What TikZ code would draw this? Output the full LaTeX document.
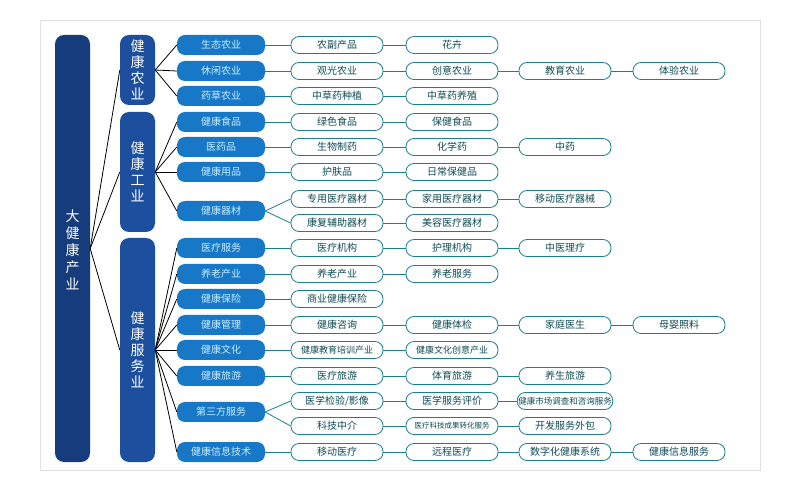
\documentclass[tikz,border=0pt]{standalone}
\usepackage{fontspec}
\setmainfont{Noto Sans CJK SC}
\usetikzlibrary{positioning}
\definecolor{navy}{HTML}{163C7E}
\definecolor{catblue}{HTML}{1C4F9E}
\definecolor{midblue}{HTML}{1778C8}
\definecolor{teal}{HTML}{1B7F8E}
\tikzstyle{bar}=[rectangle, rounded corners=9pt, fill=navy, text=white, align=center, font=\fontsize{13}{15}\selectfont]
\tikzstyle{cat}=[rectangle, rounded corners=9pt, fill=catblue, text=white, align=center, font=\fontsize{14}{16}\selectfont]
\tikzstyle{sub}=[rectangle, rounded corners=8pt, fill=midblue, text=white!80!cyan, minimum width=88pt, minimum height=20pt, font=\fontsize{10}{11}\selectfont]
\tikzstyle{leaf}=[rectangle, rounded corners=8pt, draw=teal, thick, fill=white, text=teal!60!black, minimum width=92pt, minimum height=17pt, inner sep=1pt, font=\fontsize{10}{11}\selectfont]
\tikzstyle{link}=[draw=teal, thick]
\begin{document}
\begin{tikzpicture}[x=1pt, y=-1pt]
	\useasboundingbox[fill=white] (0,0) rectangle (785,494);
	\draw[black!12] (40,20) rectangle (760,470);

	\node[bar, minimum width=35pt, minimum height=427pt] (big) at (72.5,248.5) {};
	\node[text=white, font=\fontsize{14}{17}\selectfont, align=center] at (72.5,250) {大\\健\\康\\产\\业};

	\node[cat, minimum width=35pt, minimum height=70pt] (agri) at (137.5,70) {健\\康\\农\\业};
	\node[cat, minimum width=35pt, minimum height=120pt] (indu) at (137.5,172) {健\\康\\工\\业};
	\node[cat, minimum width=35pt, minimum height=224pt] (serv) at (137.5,350) {健\\康\\服\\务\\业};

	\foreach \c in {agri,indu,serv}
		\draw[thick] (big.east) -- (\c.west);

	% second column
	\foreach \n/\y/\t/\c in {s1/45/生态农业/agri, s2/71/休闲农业/agri, s3/96/药草农业/agri,
		s4/122/健康食品/indu, s5/147/医药品/indu, s6/172/健康用品/indu, s7/211/健康器材/indu,
		s8/248/医疗服务/serv, s9/274/养老产业/serv, s10/299/健康保险/serv, s11/325/健康管理/serv,
		s12/350/健康文化/serv, s13/376/健康旅游/serv, s14/412/第三方服务/serv, s15/452/健康信息技术/serv}
	{
		\node[sub] (\n) at (221,\y) {\t};
		\draw[thick] (\c.east) -- (\n.west);
	}

	% leaves
	\foreach \n/\s/\x/\y/\t in {
		a1/s1/337/45/农副产品, a2/s2/337/71/观光农业, a3/s3/337/96/中草药种植,
		a4/s4/337/122/绿色食品, a5/s5/337/147/生物制药, a6/s6/337/172/护肤品,
		a7/s7/337/199/专用医疗器材, a8/s7/337/223/康复辅助器材,
		a9/s8/337/248/医疗机构, a10/s9/337/274/养老产业, a11/s10/337/299/商业健康保险,
		a12/s11/337/325/健康咨询, a13/s12/337/350/{\fontsize{9}{10}\selectfont 健康教育培训产业}, a14/s13/337/376/医疗旅游,
		a15/s14/337/401/{医学检验/影像}, a16/s14/337/426/科技中介, a17/s15/337/452/移动医疗}
	{
		\node[leaf] (\n) at (\x,\y) {\t};
		\draw[link] (\s.east) -- (\n.west);
	}
	\foreach \n/\p/\x/\y/\t in {
		b1/a1/452/45/花卉, b2/a2/452/71/创意农业, c2/b2/565/71/教育农业, d2/c2/679/71/体验农业,
		b3/a3/452/96/中草药养殖, b4/a4/452/122/保健食品,
		b5/a5/452/147/化学药, c5/b5/565/147/中药, b6/a6/452/172/日常保健品,
		b7/a7/452/199/家用医疗器材, c7/b7/565/199/移动医疗器械, b8/a8/452/223/美容医疗器材,
		b9/a9/452/248/护理机构, c9/b9/565/248/中医理疗, b10/a10/452/274/养老服务,
		b12/a12/452/325/健康体检, c12/b12/565/325/家庭医生, d12/c12/679/325/母婴照料,
		b13/a13/452/350/{\fontsize{9}{10}\selectfont 健康文化创意产业},
		b14/a14/452/376/体育旅游, c14/b14/565/376/养生旅游,
		b15/a15/452/401/医学服务评价, c15/b15/565/401/{\fontsize{8.5}{10}\selectfont 健康市场调查和咨询服务},
		b16/a16/452/426/{\fontsize{7.5}{9}\selectfont 医疗科技成果转化服务}, c16/b16/565/426/开发服务外包,
		b17/a17/452/452/远程医疗, c17/b17/565/452/数字化健康系统, d17/c17/679/452/健康信息服务}
	{
		\node[leaf] (\n) at (\x,\y) {\t};
		\draw[link] (\p.east) -- (\n.west);
	}
\end{tikzpicture}
\end{document}
